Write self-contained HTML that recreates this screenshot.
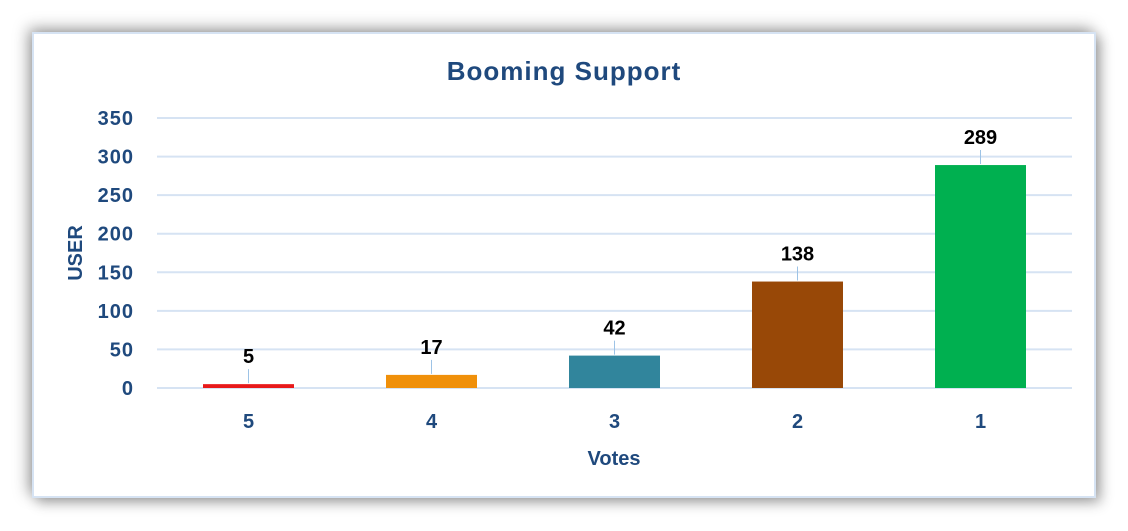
<!DOCTYPE html>
<html><head><meta charset="utf-8"><style>
html,body{margin:0;padding:0;background:#fff;width:1128px;height:531px;overflow:hidden}
#frame{position:absolute;left:32px;top:32px;width:1060px;height:462px;border:2px solid #d6e3f3;background:#fff;box-shadow:-4px -4px 14px rgba(0,0,0,0.35),5px 5px 12px rgba(0,0,0,0.3)}
svg{position:absolute;left:0;top:0}
text{font-family:"Liberation Sans",sans-serif;font-weight:bold}
</style></head><body>
<div id="frame"></div>
<svg id="chart" width="1128" height="531">
<text x="564" y="80" text-anchor="middle" font-size="26" letter-spacing="1" fill="#1f497d">Booming Support</text>
<text x="614" y="465" text-anchor="middle" font-size="20" fill="#1f497d">Votes</text>
<text transform="translate(82,253) rotate(-90)" text-anchor="middle" font-size="20" fill="#1f497d">USER</text>
<g id="g"></g>
</svg>
<script>
const categories=["5","4","3","2","1"];
const values=[5,17,42,138,289];
const colors=["#e8191a","#f0900a","#31859c","#984807","#00b050"];
const ticks=[0,50,100,150,200,250,300,350];
const NS="http://www.w3.org/2000/svg";
const g=document.getElementById("g");
const x0=157,x1=1072,yBase=388,yTop=118,maxV=350;
const y=v=>yBase-(v/maxV)*(yBase-yTop);
const band=(x1-x0)/categories.length;
const xc=i=>x0+band*(i+0.5);
function mk(t,a){const e=document.createElementNS(NS,t);for(const k in a)e.setAttribute(k,a[k]);g.appendChild(e);return e;}
ticks.forEach(t=>{
 const l=mk("line",{x1:x0,x2:x1,y1:y(t),y2:y(t),stroke:"#d6e3f3","stroke-width":2});
 
 
 const tx=mk("text",{x:134,y:y(t)+7,"text-anchor":"end","font-size":20,"letter-spacing":1,fill:"#1f497d"});
 tx.textContent=t;
 
 
});
categories.forEach((c,i)=>{
 const w=91,h=Math.max(yBase-y(values[i]),2);
 const r=mk("rect",{x:xc(i)-w/2,y:yBase-h,width:w,height:h,fill:colors[i]});
 
 
 const top=y(values[i]);
 const ln=mk("line",{x1:xc(i),x2:xc(i),y1:top-1,y2:top-15,stroke:"#9dc3e6","stroke-width":1});
 
 
 const lv=mk("text",{x:xc(i),y:top-21,"text-anchor":"middle","font-size":20,fill:"#000"});
 lv.textContent=values[i];
 
 
 const xl=mk("text",{x:xc(i),y:428,"text-anchor":"middle","font-size":20,fill:"#1f497d"});
 xl.textContent=c;
 
 
});
</script>
</body></html>
